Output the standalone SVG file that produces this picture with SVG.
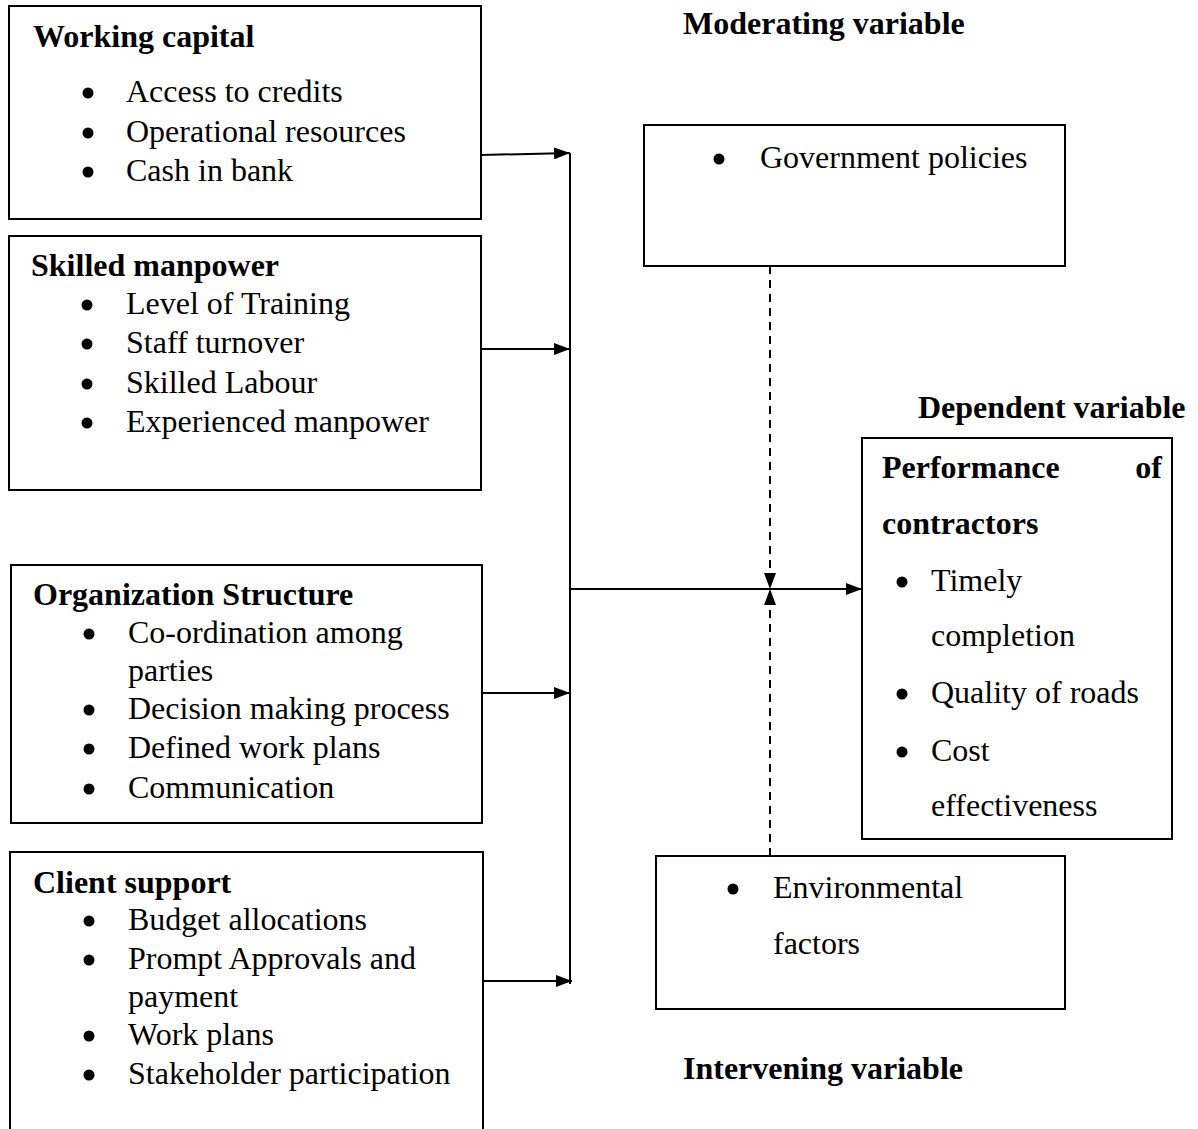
<svg xmlns="http://www.w3.org/2000/svg" width="1198" height="1129" viewBox="0 0 1198 1129">
<style>
.box{fill:#fff;stroke:#000;stroke-width:2}
.t{font-family:"Liberation Serif","Times New Roman",serif;font-size:32px;fill:#000}
.b{font-weight:bold}
.ln{stroke:#000;stroke-width:2;fill:none}
.dash{stroke:#000;stroke-width:2;fill:none;stroke-dasharray:8,6}
.dot{fill:#000}
</style>
<defs>
<marker id="ah" viewBox="0 0 16 12" refX="16" refY="6" markerWidth="16" markerHeight="12" markerUnits="userSpaceOnUse" orient="auto">
<path d="M0,0 L16,6 L0,12 Z" fill="#000"/>
</marker>
</defs>
<rect width="1198" height="1129" fill="#fff"/>
<g id="working-capital">
<rect class="box" x="9" y="6" width="472" height="213"/>
<text class="t b" x="33" y="47">Working capital</text>
<circle class="dot" cx="88" cy="93" r="5.5"/><text class="t" x="126" y="102">Access to credits</text>
<circle class="dot" cx="88" cy="133" r="5.5"/><text class="t" x="126" y="142">Operational resources</text>
<circle class="dot" cx="88" cy="172" r="5.5"/><text class="t" x="126" y="181">Cash in bank</text>
</g>
<g id="skilled-manpower">
<rect class="box" x="9" y="236" width="472" height="254"/>
<text class="t b" x="31" y="276">Skilled manpower</text>
<circle class="dot" cx="87" cy="305" r="5.5"/><text class="t" x="126" y="314">Level of Training</text>
<circle class="dot" cx="87" cy="344" r="5.5"/><text class="t" x="126" y="353">Staff turnover</text>
<circle class="dot" cx="87" cy="384" r="5.5"/><text class="t" x="126" y="393">Skilled Labour</text>
<circle class="dot" cx="87" cy="423" r="5.5"/><text class="t" x="126" y="432">Experienced manpower</text>
</g>
<g id="organization-structure">
<rect class="box" x="11" y="565" width="471" height="258"/>
<text class="t b" x="33" y="605">Organization Structure</text>
<circle class="dot" cx="89" cy="634" r="5.5"/><text class="t" x="128" y="643">Co-ordination among</text>
<text class="t" x="128" y="681">parties</text>
<circle class="dot" cx="89" cy="710" r="5.5"/><text class="t" x="128" y="719">Decision making process</text>
<circle class="dot" cx="89" cy="749" r="5.5"/><text class="t" x="128" y="758">Defined work plans</text>
<circle class="dot" cx="89" cy="789" r="5.5"/><text class="t" x="128" y="798">Communication</text>
</g>
<g id="client-support">
<path class="ln" d="M10,1130 V852 H483 V1130"/>
<text class="t b" x="33" y="893">Client support</text>
<circle class="dot" cx="89" cy="921" r="5.5"/><text class="t" x="128" y="930">Budget allocations</text>
<circle class="dot" cx="89" cy="960" r="5.5"/><text class="t" x="128" y="969">Prompt Approvals and</text>
<text class="t" x="128" y="1007">payment</text>
<circle class="dot" cx="89" cy="1036" r="5.5"/><text class="t" x="128" y="1045">Work plans</text>
<circle class="dot" cx="89" cy="1075" r="5.5"/><text class="t" x="128" y="1084">Stakeholder participation</text>
</g>
<g id="moderating-variable">
<text class="t b" x="683" y="34">Moderating variable</text>
<rect class="box" x="644" y="125" width="421" height="141"/>
<circle class="dot" cx="719" cy="159" r="5.5"/><text class="t" x="760" y="168">Government policies</text>
</g>
<g id="dependent-variable">
<text class="t b" x="918" y="418">Dependent variable</text>
<rect class="box" x="862" y="438" width="310" height="401"/>
<text class="t b" x="882" y="478">Performance</text>
<text class="t b" x="1162" y="478" text-anchor="end">of</text>
<text class="t b" x="882" y="534">contractors</text>
<circle class="dot" cx="902" cy="582" r="5.5"/><text class="t" x="931" y="591">Timely</text>
<text class="t" x="931" y="646">completion</text>
<circle class="dot" cx="902" cy="694" r="5.5"/><text class="t" x="931" y="703">Quality of roads</text>
<circle class="dot" cx="902" cy="752" r="5.5"/><text class="t" x="931" y="761">Cost</text>
<text class="t" x="931" y="816">effectiveness</text>
</g>
<g id="intervening-variable">
<rect class="box" x="656" y="856" width="409" height="153"/>
<circle class="dot" cx="733" cy="889" r="5.5"/><text class="t" x="773" y="898">Environmental</text>
<text class="t" x="773" y="954">factors</text>
<text class="t b" x="683" y="1079">Intervening variable</text>
</g>
<g id="connectors">
<line class="ln" x1="481" y1="155" x2="570" y2="153" marker-end="url(#ah)"/>
<line class="ln" x1="481" y1="349" x2="570" y2="349" marker-end="url(#ah)"/>
<line class="ln" x1="482" y1="693" x2="570" y2="693" marker-end="url(#ah)"/>
<line class="ln" x1="483" y1="981" x2="572" y2="981" marker-end="url(#ah)"/>
<line class="ln" x1="570" y1="153" x2="570" y2="984"/>
<line class="ln" x1="570" y1="589" x2="862" y2="589" marker-end="url(#ah)"/>
<line class="dash" x1="770" y1="266" x2="770" y2="589" marker-end="url(#ah)"/>
<line class="dash" x1="770" y1="856" x2="770" y2="589" marker-end="url(#ah)"/>
</g>
</svg>
